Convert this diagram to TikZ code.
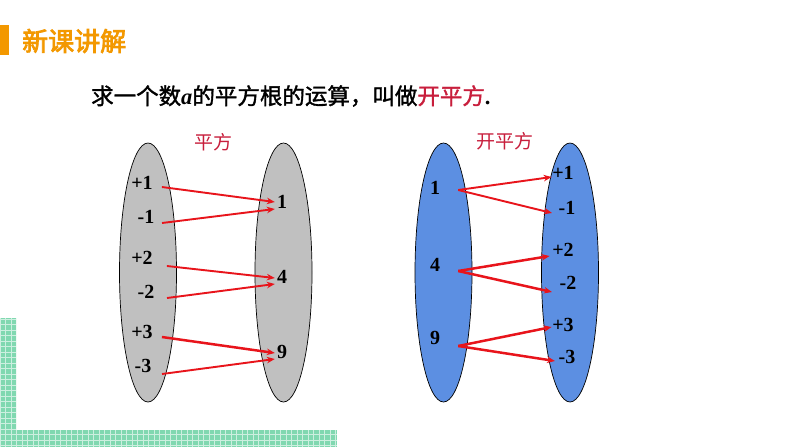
\documentclass[tikz,border=0pt]{standalone}
\usepackage{fontspec}
\setmainfont{Liberation Serif}
\newfontfamily\cjk{Noto Sans CJK SC}
\newfontfamily\cjkb[FakeBold=1.5]{Noto Sans CJK SC}
\newfontfamily\cjkbb[FakeBold=3]{Noto Sans CJK SC}
\usetikzlibrary{shapes.geometric,arrows.meta}
\definecolor{orng}{RGB}{243,152,0}
\definecolor{grn}{RGB}{128,216,176}
\definecolor{redt}{RGB}{200,30,60}
\definecolor{arr}{RGB}{232,20,27}
\definecolor{gry}{RGB}{192,192,192}
\definecolor{blu}{RGB}{92,143,226}
\tikzset{
  oval/.style={ellipse, draw=black, line width=0.7pt, minimum width=57pt, minimum height=259pt, inner sep=0pt},
  num/.style={font=\fontsize{20}{20}\selectfont\bfseries, inner sep=0pt, text=black},
  arw/.style={draw=arr, line width=1.9pt, -{Stealth[length=8pt,width=6.5pt]}},
  arwb/.style={arw, line width=2.5pt},
}
\begin{document}
\begin{tikzpicture}[x=1pt,y=-1pt]
\useasboundingbox (0,0) rectangle (794,447);
\fill[white] (0,0) rectangle (794,447);
% green grid L
\begin{scope}
\clip (0,318) rectangle (16,447) (0,430) rectangle (337,447);
\fill[grn] (0,318) rectangle (337,447);
\draw[white, opacity=0.6, line width=0.3pt, step=5.5pt] (0,314) grid (340,447);
\end{scope}
% title
\fill[orng] (0,25) rectangle (9,55);
\node[anchor=west, inner sep=0pt, text=orng, font=\cjkbb\fontsize{26}{26}\selectfont] (title) at (22,41) {新课讲解};
% sentence
\node[anchor=west, inner sep=0pt, font=\cjkb\fontsize{22.5}{24}\selectfont] (sent) at (91,96)
  {求一个数{\rmfamily\bfseries\itshape a}的平方根的运算，叫做\textcolor{redt}{开平方}{\rmfamily\bfseries .}};
% labels
\node[font=\cjk\fontsize{19}{19}\selectfont, text=redt, inner sep=0pt] (lab1) at (213,142) {平方};
\node[font=\cjk\fontsize{19}{19}\selectfont, text=redt, inner sep=0pt] (lab2) at (505,141) {开平方};
% ellipses
\node[oval, fill=gry] (E1) at (148,272.5) {};
\node[oval, fill=gry] (E2) at (283.5,272.5) {};
\node[oval, fill=blu] (E3) at (443.5,272.5) {};
\node[oval, fill=blu] (E4) at (570,272.5) {};
% left numbers
\node[num] (p1) at (142,183) {+1};
\node[num] (m1) at (146,217) {-1};
\node[num] (p2) at (142,258) {+2};
\node[num] (m2) at (146,292) {-2};
\node[num] (p3) at (142,332) {+3};
\node[num] (m3) at (143,366) {-3};
\node[num] (n1) at (282,202) {1};
\node[num] (n4) at (282,277) {4};
\node[num] (n9) at (282,352) {9};
% right numbers
\node[num] (s1) at (435,188) {1};
\node[num] (s4) at (435,265) {4};
\node[num] (s9) at (435,338) {9};
\node[num] (q1) at (563,173) {+1};
\node[num] (r1) at (567,208) {-1};
\node[num] (q2) at (563,250) {+2};
\node[num] (r2) at (568,283) {-2};
\node[num] (q3) at (563,325) {+3};
\node[num] (r3) at (567,357) {-3};
% arrows left
\draw[arw] ([shift={(9,4)}]p1.east) -- ([shift={(-2,0)}]n1.west);
\draw[arw] ([shift={(7.5,6)}]m1.east) -- ([shift={(-2,7)}]n1.west);
\draw[arw] ([shift={(14,8)}]p2.east) -- ([shift={(-2,1)}]n4.west);
\draw[arw] ([shift={(12.5,6)}]m2.east) -- ([shift={(-2,7)}]n4.west);
\draw[arwb] ([shift={(9,5)}]p3.east) -- ([shift={(-2,1)}]n9.west);
\draw[arw] ([shift={(10.5,8)}]m3.east) -- ([shift={(-2,7)}]n9.west);
% arrows right
\draw[arw] ([shift={(18,2)}]s1.east) -- ([shift={(-0.5,4)}]q1.west);
\draw[arw] ([shift={(18,2)}]s1.east) -- ([shift={(-6.5,5)}]r1.west);
\draw[arwb] ([shift={(18,6)}]s4.east) -- ([shift={(-2.5,6)}]q2.west);
\draw[arwb] ([shift={(18,6)}]s4.east) -- ([shift={(-7.5,9)}]r2.west);
\draw[arwb] ([shift={(18,8)}]s9.east) -- ([shift={(-0.5,2)}]q3.west);
\draw[arwb] ([shift={(18,8)}]s9.east) -- ([shift={(-3.5,4)}]r3.west);
\end{tikzpicture}
\end{document}
